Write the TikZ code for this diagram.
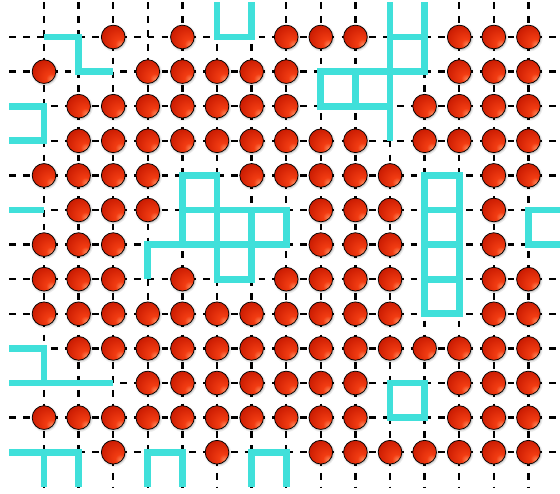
\documentclass[tikz,border=0pt]{standalone}
\usetikzlibrary{shadows}
\definecolor{cy}{RGB}{64,224,218}
\definecolor{bhl}{RGB}{255,150,105}
\definecolor{bmid}{RGB}{242,60,18}
\definecolor{bdark}{RGB}{208,32,4}
\definecolor{bedge}{RGB}{130,10,0}
\pgfdeclareradialshading{redball}{\pgfpoint{18bp}{-18bp}}{color(0bp)=(bhl); color(10bp)=(bmid); color(30bp)=(bdark); color(50bp)=(bedge)}
\begin{document}
\begin{tikzpicture}[x=1cm,y=1cm,
  gridline/.style={line width=2.1pt, dash pattern=on 5.5pt off 5.88pt},
  wall/.style={draw=cy, line width=5.5pt, line join=miter, line cap=butt},
  ball/.style={circle, inner sep=0pt, minimum size=0.685cm, draw=black, line width=0.6pt,
    shade, shading=redball,
    circular drop shadow={shadow xshift=0.4pt, shadow yshift=-0.6pt, shadow scale=1.17, opacity=0.10, fill=black},
    circular drop shadow={shadow xshift=0.3pt, shadow yshift=-0.4pt, shadow scale=1.08, opacity=0.18, fill=black}}]
\useasboundingbox (-1.272,1.069) rectangle (14.913,-13.208);
\clip (-1.272,1.069) rectangle (14.913,-13.208);
% dashed grid
\foreach \r in {0,...,12} \draw[gridline] (-1,-\r) -- (15,-\r);
\foreach \c in {0,...,14} \draw[gridline] (\c,1) -- (\c,-13);
% cyan walls
\draw[wall] (0,0) -- (1,0) -- (1,-1) -- (2,-1);
\draw[wall] (5,1) -- (5,0) -- (6,0) -- (6,1);
\draw[wall] (-1,-2) -- (0,-2) -- (0,-3) -- (-1,-3);
\draw[wall] (-1,-5) -- (0,-5);
\draw[wall] (4,-6) -- (4,-4) -- (5,-4) -- (5,-7) -- (6,-7) -- (6,-5);
\draw[wall] (4,-5) -- (7,-5) -- (7,-6) -- (3,-6) -- (3,-7);
\draw[wall] (10,1) -- (10,-3);
\draw[wall] (11,1) -- (11,-1) -- (8,-1) -- (8,-2) -- (10,-2);
\draw[wall] (10,0) -- (11,0);
\draw[wall] (9,-1) -- (9,-2);
\draw[wall] (11,-4) rectangle (12,-8);
\foreach \r in {5,6,7} \draw[wall] (11,-\r) -- (12,-\r);
\draw[wall] (15,-5) -- (14,-5) -- (14,-6) -- (15,-6);
\draw[wall] (-1,-9) -- (0,-9) -- (0,-10);
\draw[wall] (-1,-10) -- (2,-10);
\draw[wall] (10,-10) rectangle (11,-11);
\draw[wall] (-1,-12) -- (1,-12) -- (1,-13);
\draw[wall] (0,-12) -- (0,-13);
\draw[wall] (3,-13) -- (3,-12) -- (4,-12) -- (4,-13);
\draw[wall] (6,-13) -- (6,-12) -- (7,-12) -- (7,-13);
% balls
\foreach \r/\cols in {
  0/{2,4,7,8,9,12,13,14},
  1/{0,3,4,5,6,7,12,13,14},
  2/{1,2,3,4,5,6,7,11,12,13,14},
  3/{1,2,3,4,5,6,7,8,9,11,12,13,14},
  4/{0,1,2,3,6,7,8,9,10,13,14},
  5/{1,2,3,8,9,10,13},
  6/{0,1,2,8,9,10,13},
  7/{0,1,2,4,7,8,9,10,13,14},
  8/{0,1,2,3,4,5,6,7,8,9,10,13,14},
  9/{1,2,3,4,5,6,7,8,9,10,11,12,13,14},
  10/{3,4,5,6,7,8,9,12,13,14},
  11/{0,1,2,3,4,5,6,7,8,9,12,13,14},
  12/{2,5,8,9,10,11,12,13,14}}{
  \foreach \c in \cols { \node[ball] (b\r-\c) at (\c,-\r) {}; }
}
\end{tikzpicture}
\end{document}
